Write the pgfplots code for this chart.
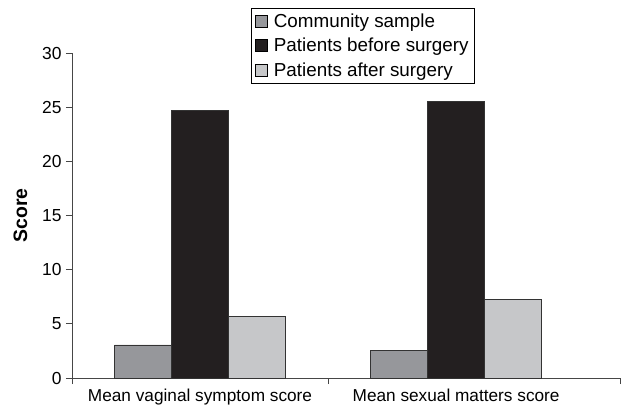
\documentclass[border=0pt]{standalone}
\usepackage{fontspec}
\setmainfont{Liberation Sans}
\usepackage{pgfplots}
\pgfplotsset{compat=1.18}
\definecolor{commc}{RGB}{150,151,155}
\definecolor{beforec}{RGB}{35,31,32}
\definecolor{afterc}{RGB}{198,199,201}
\definecolor{axc}{RGB}{70,70,70}
\begin{document}
\begin{tikzpicture}
\begin{axis}[
  scale only axis,
  width=548bp, height=325bp,
  xmin=-0.5, xmax=1.64,
  ymin=0, ymax=30,
  ybar=0pt, bar width=57bp,
  axis lines=left,
  axis line style={-, draw=axc, line width=0.9bp},
  every outer x axis line/.append style={-},
  every outer y axis line/.append style={-},
  ytick={0,5,...,30},
  /pgf/number format/assume math mode=true,
  major tick length=6bp,
  tick style={draw=axc, line width=0.8bp},
  yticklabel style={font=\fontsize{17.5}{19}\selectfont, xshift=-1bp},
  tick align=outside,
  xtick={0,1},
  xticklabels={Mean vaginal symptom score, Mean sexual matters score},
  x tick style={draw=none},
  xticklabel style={font=\fontsize{17.3}{19}\selectfont, yshift=-1bp},
  extra x ticks={-0.5,0.5,1.64},
  extra x tick labels={},
  extra x tick style={x tick style={draw=axc, line width=0.8bp}},
  ylabel={\textbf{Score}},
  ylabel style={font=\fontsize{19.5}{21}\selectfont, yshift=8bp},
  legend style={at={(0.531,1.138)}, anchor=north, draw=black, line width=0.6bp,
    font=\fontsize{18.9}{20}\selectfont, row sep=5.5bp, column sep=4bp, inner xsep=4bp, inner ysep=3bp,
    legend cell align=left},
  legend image code/.code={\draw[#1, draw=black, line width=0.5bp] (0bp,-6bp) rectangle (12bp,6bp);},
  clip=false,
]
\addplot[fill=commc, draw=black!80, line width=0.8bp] coordinates {(0,3.05) (1,2.52)};
\addplot[fill=beforec, draw=black!80, line width=0.8bp] coordinates {(0,24.72) (1,25.55)};
\addplot[fill=afterc, draw=black!80, line width=0.8bp] coordinates {(0,5.72) (1,7.27)};
\legend{Community sample, Patients before surgery, Patients after surgery}
\end{axis}
\pgfresetboundingbox
\path ([xshift=-72bp,yshift=-35bp]current axis.south west) rectangle ([xshift=1bp,yshift=53bp]current axis.north east);
\end{tikzpicture}
\end{document}
